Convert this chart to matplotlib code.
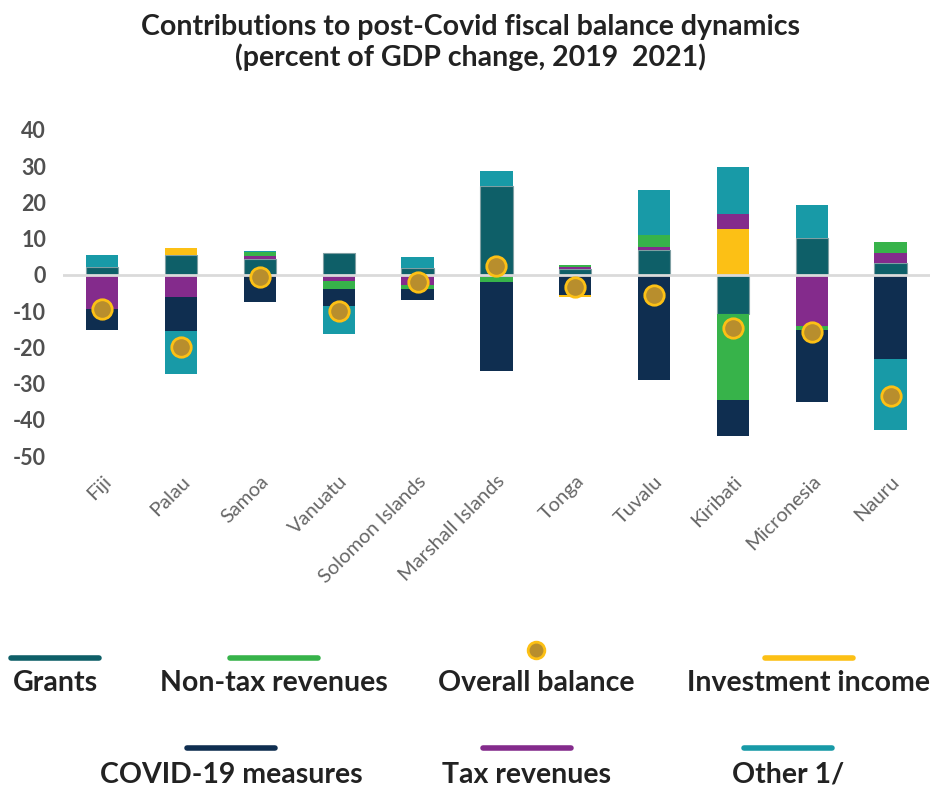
import numpy as np
import matplotlib.pyplot as plt
from matplotlib.lines import Line2D

# values (percent of GDP)
countries = ['Fiji', 'Palau', 'Samoa', 'Vanuatu', 'Solomon Islands', 'Marshall Islands',
             'Tonga', 'Tuvalu', 'Kiribati', 'Micronesia', 'Nauru']
grants = [2.3, 5.6, 4.3, 6.1, 2.0, 24.6, 1.7, 6.8, -10.7, 10.2, 3.3]
covid = [-6.0, -9.4, -7.5, -4.5, -2.8, -24.6, -5.6, -29.0, -9.8, -19.7, -23.3]
nontax = [0.0, 0.0, 0.9, -2.4, -1.1, -1.4, 0.5, 3.3, -23.9, -1.1, 3.0]
tax = [-9.3, -6.0, 1.0, -1.6, -2.9, -0.5, 0.5, 0.8, 4.1, -14.2, 2.7]
invest = [0.0, 1.7, 0.0, 0.0, 0.0, 0.0, -0.5, 0.0, 12.6, 0.0, 0.0]
other = [3.3, -12.1, 0.3, -7.9, 2.8, 4.0, 0.0, 12.5, 13.0, 9.0, -19.5]
balance = [-9.4, -20.0, -0.6, -9.9, -1.9, 2.5, -3.3, -5.6, -14.7, -15.9, -33.4]
yticks = [40, 30, 20, 10, 0, -10, -20, -30, -40, -50]

colors = {
    'Grants': '#0E5F68',
    'COVID-19 measures': '#0F2E50',
    'Non-tax revenues': '#37B34A',
    'Tax revenues': '#842B8C',
    'Investment income': '#FCC015',
    'Other 1/': '#189AA7',
}
series = {
    'Grants': grants,
    'COVID-19 measures': covid,
    'Non-tax revenues': nontax,
    'Tax revenues': tax,
    'Investment income': invest,
    'Other 1/': other,
}
# stacking order differs above and below zero in the original
pos_order = ['Grants', 'Investment income', 'Tax revenues', 'Non-tax revenues', 'Other 1/']
neg_order = ['Grants', 'Tax revenues', 'Non-tax revenues', 'COVID-19 measures',
             'Investment income', 'Other 1/']

plt.rcParams['font.family'] = ['Lato', 'DejaVu Sans']

fig = plt.figure(figsize=(9.37, 7.91), dpi=100)
ax = fig.add_axes([0.067, 0.4235, 0.9255, 0.4122])

x = np.arange(len(countries))
w = 0.41

pos_base = np.zeros(len(x))
for name in pos_order:
    v = np.clip(np.array(series[name]), 0, None)
    ec = '#7f9fa3' if name == 'Grants' else 'none'
    ax.bar(x, v, w, bottom=pos_base, color=colors[name], edgecolor=ec,
           linewidth=0.8, zorder=2)
    pos_base += v

neg_base = np.zeros(len(x))
for name in neg_order:
    v = np.clip(np.array(series[name]), None, 0)
    ec = '#7f9fa3' if name == 'Grants' else 'none'
    ax.bar(x, v, w, bottom=neg_base, color=colors[name], edgecolor=ec,
           linewidth=0.8, zorder=2)
    neg_base += v

ax.axhline(0, color='#DADADA', linewidth=2, zorder=3)
ax.plot(x, balance, 'o', markersize=14, markerfacecolor='#B88E2D',
        markeredgecolor='#FCC015', markeredgewidth=2, zorder=4)

ax.set_xlim(-0.5, len(x) - 0.5)
ax.set_ylim(-50, 40)
ax.set_yticks(yticks)
ax.set_yticklabels([str(t) for t in yticks], fontsize=15.5, fontweight='bold', color='#505050')
ax.set_xticks(x)
ax.set_xticklabels(countries, rotation=45, ha='right', rotation_mode='anchor',
                   fontsize=14.5, color='#666666')
ax.tick_params(axis='both', length=0)
ax.tick_params(axis='y', pad=12)
ax.tick_params(axis='x', pad=12)
for s in ax.spines.values():
    s.set_visible(False)

fig.text(0.502, 0.966, 'Contributions to post-Covid fiscal balance dynamics',
         ha='center', va='center', fontsize=20.5, fontweight='bold', color='#222222')
fig.text(0.502, 0.928, '(percent of GDP change, 2019  2021)',
         ha='center', va='center', fontsize=20.5, fontweight='bold', color='#222222')

# custom legend: handle above label, two rows
H, W = 791.0, 937.0
legend_items = [
    ('Grants', 55, 658, 683),
    ('Non-tax revenues', 274, 658, 683),
    ('Overall balance', 536, 658, 683),
    ('Investment income', 809, 658, 683),
    ('COVID-19 measures', 231, 748, 775),
    ('Tax revenues', 527, 748, 775),
    ('Other 1/', 788, 748, 775),
]
for name, cx, ly, ty in legend_items:
    if name == 'Overall balance':
        fig.add_artist(Line2D([cx / W], [1 - 650 / H], marker='o', markersize=12,
                              markerfacecolor='#B88E2D', markeredgecolor='#FCC015',
                              markeredgewidth=2, transform=fig.transFigure))
    else:
        fig.add_artist(Line2D([(cx - 44) / W, (cx + 44) / W], [1 - ly / H, 1 - ly / H],
                              color=colors[name], linewidth=4, solid_capstyle='round',
                              transform=fig.transFigure))
    fig.text(cx / W, 1 - ty / H, name, ha='center', va='center', fontsize=20.5,
             fontweight='bold', color='#222222')

fig.savefig('out.png', dpi=100)
